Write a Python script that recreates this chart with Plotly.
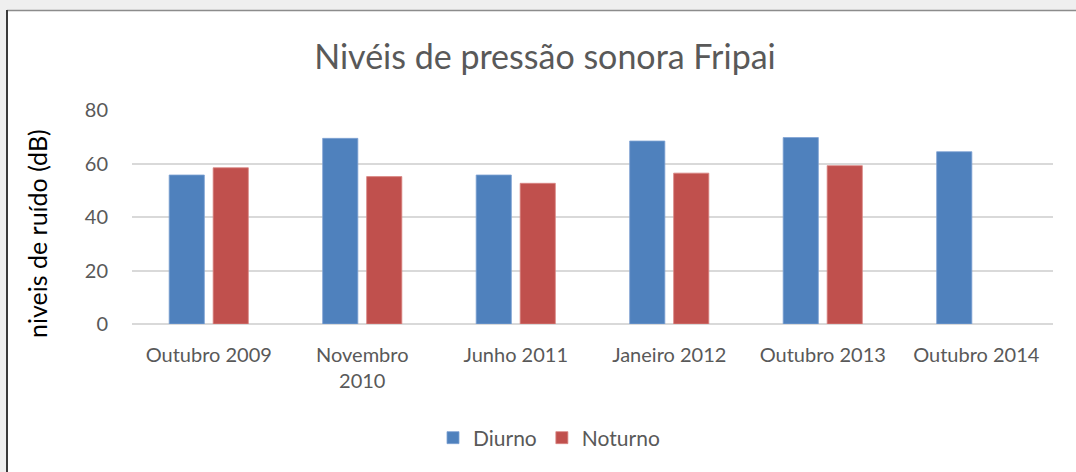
import plotly.graph_objects as go

categories = ["Outubro 2009", "Novembro<br>2010", "Junho 2011", "Janeiro 2012", "Outubro 2013", "Outubro 2014"]
diurno = [55.7, 69.4, 55.7, 68.4, 69.7, 64.4]
noturno = [58.4, 55.1, 52.6, 56.4, 59.2, None]
y_ticks = [0, 20, 40, 60, 80]

FONT = "Lato"
TXT = "#595959"

W, H = 1076, 472
L, R, T, B = 132, 1053, 110, 324

def px_x(p):
    return (p - L) / (R - L)

def px_y(p):
    return (B - p) / (B - T)

fig = go.Figure()
fig.add_trace(go.Bar(name="Diurno", x=categories, y=diurno, marker=dict(color="#4F81BD", line=dict(color="#7FA2D3", width=0.8))))
fig.add_trace(go.Bar(name="Noturno", x=categories, y=noturno, marker=dict(color="#C0504D", line=dict(color="#D98583", width=0.8))))

fig.update_layout(
    width=W, height=H,
    margin=dict(l=L, r=W - R, t=T, b=H - B),
    paper_bgcolor="white", plot_bgcolor="white",
    barmode="group", bargap=0.427, bargroupgap=0.2,
    font=dict(family=FONT, color=TXT, size=20),
    title=dict(text="Nivéis de pressão sonora Fripai", x=545 / W, xanchor="center",
               y=1 - 57 / H, yanchor="middle", yref="container",
               font=dict(family=FONT, size=34, color=TXT)),
    legend=dict(orientation="h", x=px_x(549), xanchor="center", y=px_y(438), yanchor="middle",
                font=dict(family=FONT, size=21, color=TXT), traceorder="normal"),
    showlegend=True,
)
fig.update_xaxes(showgrid=False, showline=False, zeroline=False, ticks="",
                 ticklabelstandoff=17, tickfont=dict(family=FONT, size=20, color=TXT))
fig.update_yaxes(range=[0, 80], tickvals=y_ticks, showgrid=True, gridcolor="#D9D9D9", gridwidth=1.5,
                 zeroline=True, zerolinecolor="#D9D9D9", zerolinewidth=1.5, showline=False,
                 ticks="", ticklabelstandoff=23, tickfont=dict(family=FONT, size=20, color=TXT))

fig.add_annotation(text="niveis de ruído (dB)", textangle=-90, x=px_x(37), y=px_y(234),
                   xref="paper", yref="paper", xanchor="center", yanchor="middle", showarrow=False,
                   font=dict(family=FONT, size=25, color="#000000"))

# outer frame / background
fig.add_shape(type="rect", xref="paper", yref="paper", x0=px_x(0), x1=px_x(6), y0=px_y(H), y1=px_y(0),
              fillcolor="#EFEFEF", line=dict(width=0), layer="below")
fig.add_shape(type="rect", xref="paper", yref="paper", x0=px_x(0), x1=px_x(W), y0=px_y(10), y1=px_y(0),
              fillcolor="#EFEFEF", line=dict(width=0), layer="below")
fig.add_shape(type="line", xref="paper", yref="paper", x0=px_x(7), x1=px_x(W), y0=px_y(10.5), y1=px_y(10.5),
              line=dict(color="#8C8C8C", width=1.5))
fig.add_shape(type="line", xref="paper", yref="paper", x0=px_x(7), x1=px_x(7), y0=px_y(10), y1=px_y(H),
              line=dict(color="#3A3A3A", width=2))

fig.write_html("out.html", config={"displayModeBar": False},
               post_script="document.body.style.margin='0';document.body.style.overflow='hidden';")
